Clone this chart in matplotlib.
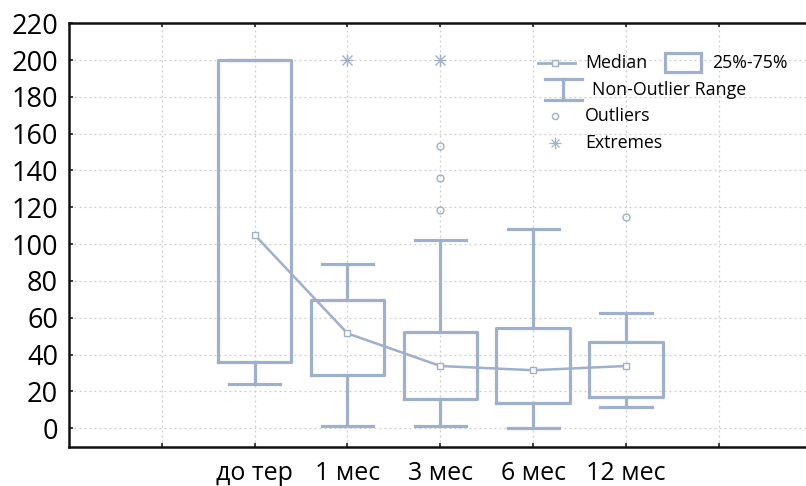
import matplotlib
matplotlib.use("Agg")
import matplotlib.pyplot as plt
from matplotlib.lines import Line2D
from matplotlib.patches import Rectangle

# ---- data ----
categories = ["до тер", "1 мес", "3 мес", "6 мес", "12 мес"]
positions = [2, 3, 4, 5, 6]
medians = [105, 51.5, 33.8, 31.5, 33.8]
q1 = [36, 29, 16, 13.6, 17.2]
q3 = [200, 69.5, 52.5, 54.6, 47]
whisk_lo = [24, 1, 1.2, 0, 11.4]
whisk_hi = [200, 89, 102.4, 108.4, 62.8]
outlier_x = [4, 4, 4, 6]
outlier_y = [153.5, 136.1, 118.4, 114.7]
extreme_x = [3, 4]
extreme_y = [200, 200]
yticks = list(range(0, 221, 20))

BLUE = "#9eb0cb"
plt.rcParams["font.family"] = ["Open Sans", "DejaVu Sans"]

W, H = 806, 486
fig = plt.figure(figsize=(W / 100, H / 100), dpi=100)
ax = fig.add_axes([69 / W, 1 - 447 / H, 1 - 69 / W, (447 - 23) / H])

stats = []
for i in range(len(categories)):
    stats.append(dict(med=medians[i], q1=q1[i], q3=q3[i],
                      whislo=whisk_lo[i], whishi=whisk_hi[i], fliers=[]))
ax.bxp(stats, positions=positions, widths=0.79, showfliers=False,
       boxprops=dict(color=BLUE, linewidth=2.3),
       whiskerprops=dict(color=BLUE, linewidth=2.3),
       capprops=dict(color=BLUE, linewidth=2.3),
       medianprops=dict(linewidth=0), capwidths=0.55, manage_ticks=False)

ax.plot(positions, medians, color=BLUE, linewidth=1.8, marker="s",
        markersize=5, markerfacecolor="white", markeredgecolor=BLUE,
        markeredgewidth=1.0, zorder=5)
ax.plot(outlier_x, outlier_y, linestyle="none", marker="o", markersize=5,
        markerfacecolor="none", markeredgecolor=BLUE, markeredgewidth=1.0)
ax.plot(extreme_x, extreme_y, linestyle="none", marker="+", markersize=9,
        color=BLUE, markeredgewidth=1.0)
ax.plot(extreme_x, extreme_y, linestyle="none", marker="x", markersize=6.5,
        color=BLUE, markeredgewidth=1.0)

ax.set_xlim(0, (W - 69) / 92.83)
ax.set_ylim(-10.2, 220.1)
ax.set_yticks(yticks)
ax.set_yticklabels([str(v) for v in yticks], fontsize=19.5)
ax.set_xticks(range(1, 8))
ax.set_xticklabels([""] + categories + [""], fontsize=18)
ax.tick_params(axis="both", direction="in", length=3, width=1.2, pad=8,
               colors="#222222", labelcolor="black")
ax.tick_params(axis="x", top=True, pad=10)
ax.grid(True, linestyle=(0, (1.5, 2.5)), color="#cccccc", linewidth=0.9)
ax.set_axisbelow(True)
for s in ["left", "bottom", "top"]:
    ax.spines[s].set_linewidth(1.8)
    ax.spines[s].set_color("#111111")
ax.spines["right"].set_visible(False)

# ---- legend (drawn in figure pixel coordinates) ----
def fx(px):
    return px / W

def fy(py):
    return 1 - py / H

tr = fig.transFigure
fs = 12.8
fig.add_artist(Line2D([fx(538), fx(575)], [fy(63), fy(63)], transform=tr,
                      color=BLUE, linewidth=2))
fig.add_artist(Line2D([fx(555)], [fy(63)], transform=tr, marker="s",
                      markersize=5, markerfacecolor="#fbf8ea",
                      markeredgecolor=BLUE, markeredgewidth=1))
fig.text(fx(585), fy(63), "Median", fontsize=fs, va="center", ha="left")
fig.add_artist(Rectangle((fx(665), fy(72)), fx(701) - fx(665), fy(53) - fy(72),
                         transform=tr, fill=False, edgecolor=BLUE, linewidth=2.3))
fig.text(fx(712), fy(63), "25%-75%", fontsize=fs, va="center", ha="left")
fig.add_artist(Line2D([fx(545), fx(582)], [fy(79), fy(79)], transform=tr,
                      color=BLUE, linewidth=2.3))
fig.add_artist(Line2D([fx(545), fx(582)], [fy(100), fy(100)], transform=tr,
                      color=BLUE, linewidth=2.3))
fig.add_artist(Line2D([fx(563), fx(563)], [fy(79), fy(100)], transform=tr,
                      color=BLUE, linewidth=2.3))
fig.text(fx(592), fy(90), "Non-Outlier Range", fontsize=fs, va="center", ha="left")
fig.add_artist(Line2D([fx(555)], [fy(116)], transform=tr, marker="o",
                      markersize=4.5, markerfacecolor="#fbf8ea",
                      markeredgecolor=BLUE, markeredgewidth=1))
fig.text(fx(585), fy(116), "Outliers", fontsize=fs, va="center", ha="left")
fig.add_artist(Line2D([fx(555)], [fy(143)], transform=tr, marker="+",
                      markersize=8, color=BLUE, markeredgewidth=0.9))
fig.add_artist(Line2D([fx(555)], [fy(143)], transform=tr, marker="x",
                      markersize=6, color=BLUE, markeredgewidth=0.9))
fig.text(fx(585), fy(143), "Extremes", fontsize=fs, va="center", ha="left")

fig.savefig("out.png", dpi=100)
